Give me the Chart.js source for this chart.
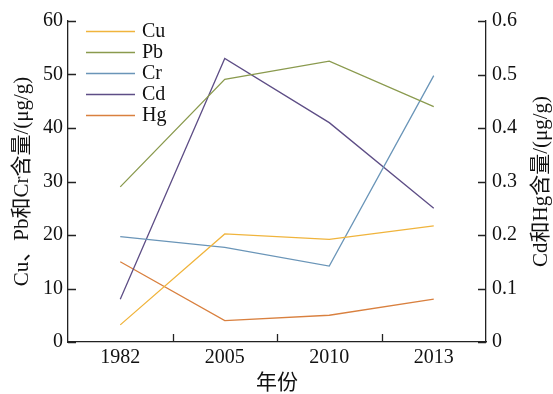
<!DOCTYPE html>
<html>
<head>
<meta charset="utf-8">
<script src="https://cdn.jsdelivr.net/npm/chart.js@4/dist/chart.umd.min.js"></script>
<style>
  html, body { margin: 0; padding: 0; background: #fff; }
  #wrap { width: 553px; height: 394px; }
</style>
</head>
<body>
<div id="wrap"><canvas id="c" width="553" height="394"></canvas></div>
<script>
// Sampling years
const years = ['1982', '2005', '2010', '2013'];

// Cu, Pb, Cr contents (µg/g) — left axis
const cu = [3.2, 20.2, 19.2, 21.7];
const pb = [29.0, 49.1, 52.5, 44.0];
const cr = [19.7, 17.7, 14.2, 49.8];

// Cd, Hg contents (µg/g) — right axis
const cd = [0.08, 0.53, 0.41, 0.25];
const hg = [0.15, 0.04, 0.05, 0.08];

// Axis labels
const leftTitle = 'Cu、Pb和Cr含量/(μg/g)';
const rightTitle = 'Cd和Hg含量/(μg/g)';
const xTitle = '年份';

const SERIF = '"Liberation Serif", "Times New Roman", "Noto Sans CJK SC", serif';
const INK = '#111111';
const AXIS = '#222222';

const colors = {
  Cu: '#F0B43C',
  Pb: '#8A9A4E',
  Cr: '#6A95B8',
  Cd: '#5E4E86',
  Hg: '#D9803F'
};

function series(label, data, axis) {
  return {
    label, data, yAxisID: axis,
    borderColor: colors[label], backgroundColor: colors[label],
    borderWidth: 1.3, pointRadius: 0, tension: 0, fill: false
  };
}

// Inward tick marks, in-plot legend and axis titles
const decorations = {
  id: 'decorations',
  afterDraw(chart) {
    const ctx = chart.ctx;
    const { x, y, y1 } = chart.scales;
    const area = chart.chartArea;
    const len = 8;
    ctx.save();
    ctx.strokeStyle = AXIS;
    ctx.lineWidth = 1.3;
    ctx.beginPath();
    y.ticks.forEach(t => {
      const py = Math.round(y.getPixelForValue(t.value)) + 0.5;
      ctx.moveTo(area.left, py); ctx.lineTo(area.left + len, py);
    });
    y1.ticks.forEach(t => {
      const py = Math.round(y1.getPixelForValue(t.value)) + 0.5;
      ctx.moveTo(area.right, py); ctx.lineTo(area.right - len, py);
    });
    for (let i = 1; i < years.length; i++) {
      const px = Math.round((x.getPixelForValue(i - 1) + x.getPixelForValue(i)) / 2) + 0.5;
      ctx.moveTo(px, area.bottom); ctx.lineTo(px, area.bottom - len);
    }
    ctx.stroke();

    // legend
    ctx.font = '20px ' + SERIF;
    ctx.textBaseline = 'middle';
    ctx.textAlign = 'left';
    chart.data.datasets.forEach((ds, i) => {
      const ly = 31 + i * 21;
      ctx.strokeStyle = ds.borderColor;
      ctx.lineWidth = 1.3;
      ctx.beginPath();
      ctx.moveTo(86, ly + 0.5); ctx.lineTo(135, ly + 0.5);
      ctx.stroke();
      ctx.fillStyle = INK;
      ctx.fillText(ds.label, 142, ly + 1);
    });

    // axis titles
    ctx.fillStyle = INK;
    ctx.textAlign = 'center';
    ctx.font = '21px ' + SERIF;
    ctx.save();
    ctx.translate(22, (area.top + area.bottom) / 2);
    ctx.rotate(-Math.PI / 2);
    ctx.fillText(leftTitle, 0, 0);
    ctx.restore();
    ctx.save();
    ctx.translate(541, (area.top + area.bottom) / 2);
    ctx.rotate(-Math.PI / 2);
    ctx.fillText(rightTitle, 0, 0);
    ctx.restore();
    ctx.fillText(xTitle, (area.left + area.right) / 2, 383);
    ctx.restore();
  }
};

const tickFont = { family: SERIF, size: 20 };
const noGrid = { display: false, drawTicks: false, tickLength: 0 };

new Chart(document.getElementById('c'), {
  type: 'line',
  data: {
    labels: years,
    datasets: [
      series('Cu', cu, 'y'),
      series('Pb', pb, 'y'),
      series('Cr', cr, 'y'),
      series('Cd', cd, 'y1'),
      series('Hg', hg, 'y1')
    ]
  },
  options: {
    responsive: false,
    animation: false,
    devicePixelRatio: 1,
    layout: { padding: { top: 21, left: 0, right: 0, bottom: 0 } },
    plugins: { legend: { display: false }, tooltip: { enabled: false } },
    scales: {
      x: {
        type: 'category',
        offset: true,
        grid: noGrid,
        border: { display: true, color: AXIS, width: 1.3 },
        ticks: { font: tickFont, color: INK, padding: 4, maxRotation: 0 },
        afterFit(s) { s.height = 52; }
      },
      y: {
        position: 'left',
        min: 0, max: 60,
        grid: noGrid,
        border: { display: true, color: AXIS, width: 1.3 },
        ticks: { stepSize: 10, font: tickFont, color: INK, padding: 5 },
        afterFit(s) { s.width = 68; }
      },
      y1: {
        position: 'right',
        min: 0, max: 0.6,
        grid: noGrid,
        border: { display: true, color: AXIS, width: 1.3 },
        ticks: {
          stepSize: 0.1, font: tickFont, color: INK, padding: 6,
          callback: v => (Math.round(v * 10) / 10).toString()
        },
        afterFit(s) { s.width = 67; }
      }
    }
  },
  plugins: [decorations]
});
</script>
</body>
</html>
